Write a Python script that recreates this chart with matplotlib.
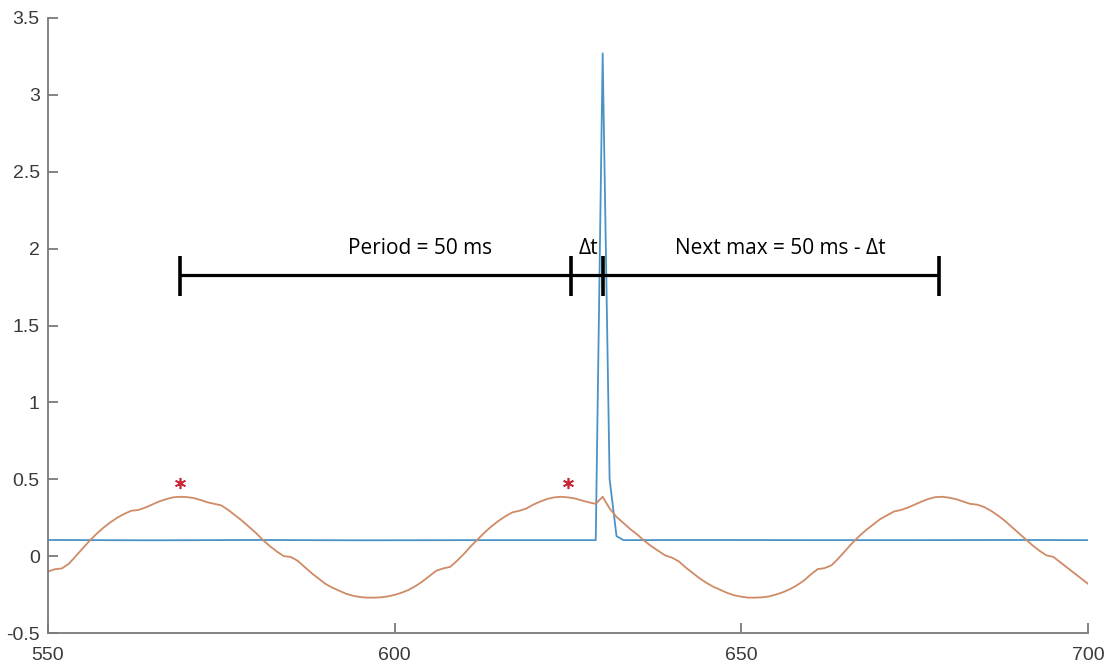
import numpy as np
import matplotlib
matplotlib.use("Agg")
import matplotlib.pyplot as plt

plt.rcParams['axes.unicode_minus'] = False

# blue signal (spike)
blue_t = [550, 565, 580, 595, 610, 620, 629, 630, 631, 632, 633, 645, 660, 675, 690, 700]
blue_v = [0.105, 0.103, 0.105, 0.103, 0.104, 0.104, 0.104, 3.27, 0.50, 0.13, 0.104, 0.105, 0.104, 0.104, 0.105, 0.104]

# orange oscillation, sampled every 1 ms from 550 to 700
orange_t = list(range(550, 701))
orange_v = [
    -0.10, -0.085, -0.08, -0.05, 0.0, 0.05, 0.10, 0.145, 0.185, 0.22,            # 550
    0.25, 0.275, 0.295, 0.30, 0.315, 0.335, 0.355, 0.37, 0.382, 0.386,           # 560
    0.384, 0.378, 0.365, 0.35, 0.34, 0.33, 0.30, 0.265, 0.23, 0.19,              # 570
    0.15, 0.105, 0.065, 0.03, 0.0, -0.005, -0.03, -0.07, -0.11, -0.145,          # 580
    -0.18, -0.205, -0.225, -0.245, -0.258, -0.266, -0.27, -0.27, -0.268, -0.262, # 590
    -0.252, -0.238, -0.22, -0.195, -0.165, -0.13, -0.095, -0.08, -0.07, -0.03,   # 600
    0.015, 0.065, 0.11, 0.155, 0.195, 0.23, 0.26, 0.285, 0.295, 0.31,            # 610
    0.335, 0.355, 0.372, 0.382, 0.386, 0.382, 0.375, 0.362, 0.35, 0.34,          # 620
    0.386, 0.31, 0.255, 0.215, 0.175, 0.14, 0.10, 0.065, 0.035, 0.005,           # 630
    -0.01, -0.035, -0.075, -0.11, -0.145, -0.175, -0.20, -0.22, -0.24, -0.255,   # 640
    -0.264, -0.27, -0.27, -0.268, -0.262, -0.25, -0.235, -0.215, -0.19, -0.16,   # 650
    -0.12, -0.085, -0.078, -0.06, -0.015, 0.035, 0.085, 0.13, 0.17, 0.205,       # 660
    0.24, 0.265, 0.29, 0.30, 0.315, 0.335, 0.355, 0.372, 0.384, 0.386,           # 670
    0.38, 0.37, 0.355, 0.34, 0.335, 0.32, 0.295, 0.265, 0.23, 0.19,              # 680
    0.15, 0.11, 0.07, 0.035, 0.005, -0.005, -0.04, -0.075, -0.11, -0.145,        # 690
    -0.18,                                                                        # 700
]

# detected maxima
star_t = [569, 625]
star_v = [0.477, 0.473]

# annotation bar
bar_y = 1.83
bar_ticks = [569, 625.4, 630, 678.5]
labels_txt = ["Period = 50 ms", "\u0394t", "Next max = 50 ms - \u0394t"]
labels_x = [603.6, 628.0, 655.6]
label_y = 2.0

yticks = [-0.5, 0, 0.5, 1, 1.5, 2, 2.5, 3, 3.5]
ytick_labels = ['-0.5', '0', '0.5', '1', '1.5', '2', '2.5', '3', '3.5']
xticks = [550, 600, 650, 700]

fig = plt.figure(figsize=(11.11, 6.67), dpi=100)
ax = fig.add_axes([48/1111, 34/667, 1040/1111, 615/667])

ax.plot(blue_t, blue_v, color='#4a93c8', lw=1.3)
ax.plot(orange_t, orange_v, color='#cf8a66', lw=1.3)
ax.plot(star_t, star_v, linestyle='none', marker=(6, 2, 0), color='#c8283a',
        markersize=8, markeredgewidth=1.2)

# annotation bar with end ticks
ax.plot([bar_ticks[0], bar_ticks[-1]], [bar_y, bar_y], color='black', lw=2.3,
        solid_capstyle='butt', zorder=4)
for bt in bar_ticks:
    ax.plot([bt, bt], [1.69, 1.95], color='black', lw=2.6, solid_capstyle='butt', zorder=4)
for txt, tx in zip(labels_txt, labels_x):
    ax.text(tx, label_y, txt, ha='center', va='center', fontsize=15,
            family=['Open Sans', 'DejaVu Sans'], color='black')

ax.set_xlim(550, 700)
ax.set_ylim(-0.5, 3.5)
ax.set_xticks(xticks)
ax.set_xticklabels([str(v) for v in xticks])
ax.set_yticks(yticks)
ax.set_yticklabels(ytick_labels)

for s in ['top', 'right']:
    ax.spines[s].set_visible(False)
for s in ['left', 'bottom']:
    ax.spines[s].set_color('#7a7a7a')
    ax.spines[s].set_linewidth(1.3)
ax.tick_params(direction='in', length=7, width=1.3, color='#7a7a7a',
               labelcolor='#3a3a3a', labelsize=14)
ax.tick_params(axis='x', pad=10)
ax.tick_params(axis='y', pad=6)
for lab in ax.get_xticklabels() + ax.get_yticklabels():
    lab.set_family(['Liberation Sans', 'DejaVu Sans'])

fig.savefig('out.png', dpi=100)
